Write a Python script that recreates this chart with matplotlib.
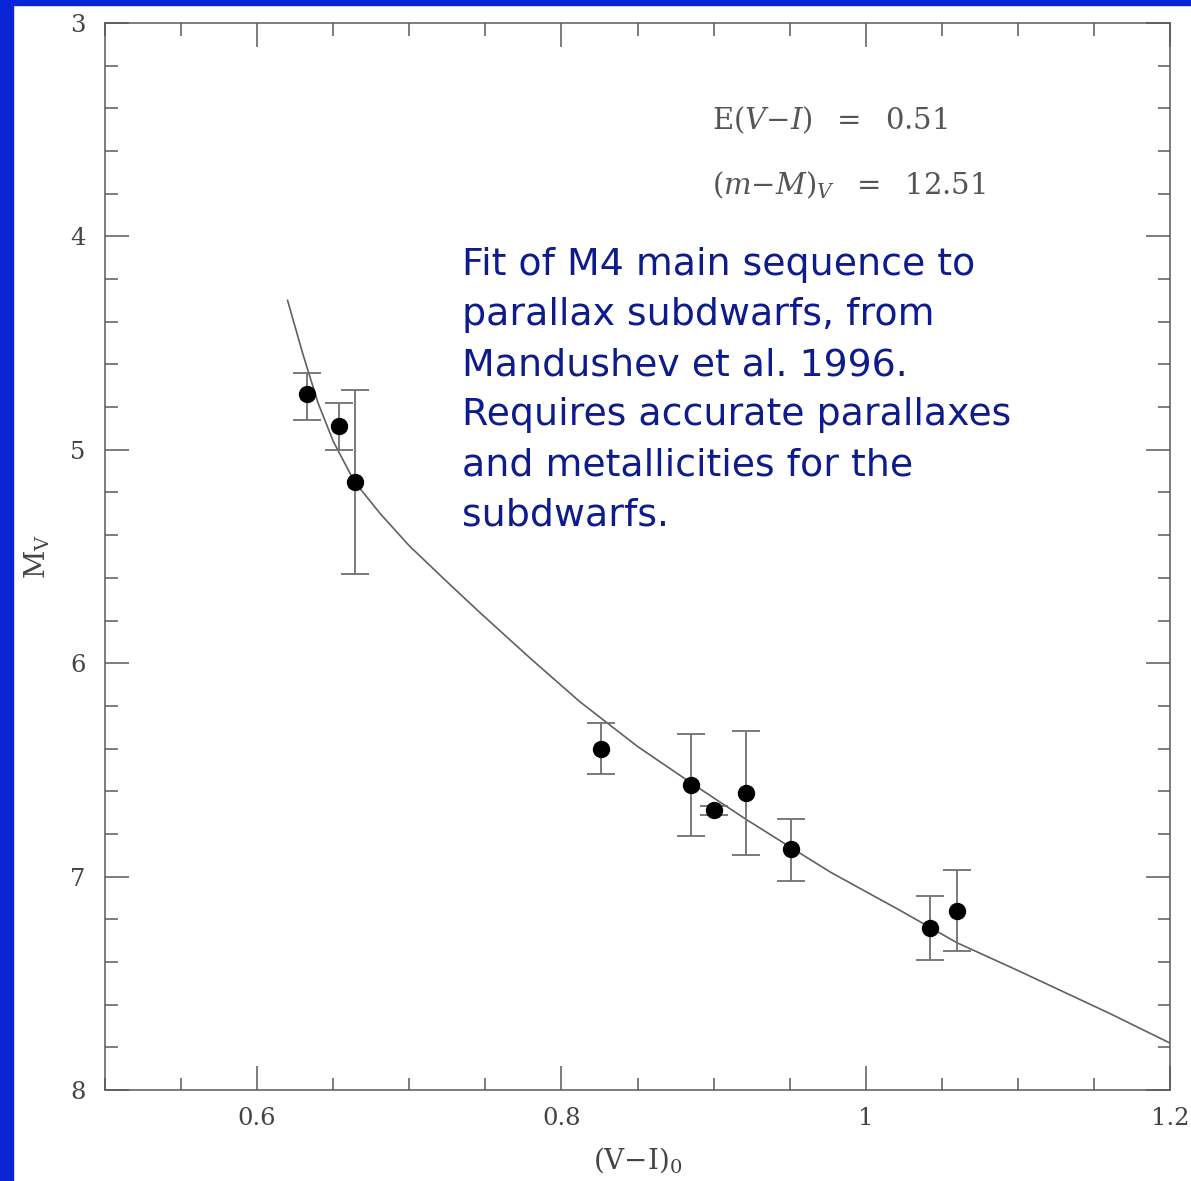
import numpy as np
import matplotlib.pyplot as plt
from matplotlib.patches import Rectangle
from matplotlib.ticker import MultipleLocator

plt.rcParams['mathtext.fontset'] = 'dejavuserif'

# subdwarf points: colour, M_V and the error bar ends
vi = [0.633, 0.654, 0.664, 0.826, 0.885, 0.900, 0.921, 0.951, 1.042, 1.060]
mv = [4.74, 4.89, 5.15, 6.40, 6.57, 6.69, 6.61, 6.87, 7.24, 7.16]
mv_top = [4.64, 4.78, 4.72, 6.28, 6.33, 6.67, 6.32, 6.73, 7.09, 6.97]
mv_bot = [4.86, 5.00, 5.58, 6.52, 6.81, 6.71, 6.90, 7.02, 7.39, 7.35]

# M4 main sequence fiducial, sampled from the plotted line
ms_vi = [0.620, 0.630, 0.640, 0.650, 0.664, 0.681, 0.700, 0.725, 0.746,
         0.780, 0.812, 0.850, 0.885, 0.921, 0.950, 0.977, 1.000, 1.023,
         1.060, 1.100, 1.121, 1.160, 1.200]
ms_mv = [4.30, 4.55, 4.78, 4.96, 5.15, 5.30, 5.45, 5.62, 5.76,
         5.98, 6.18, 6.39, 6.56, 6.73, 6.86, 6.98, 7.07, 7.16,
         7.31, 7.44, 7.51, 7.64, 7.78]

note = ("Fit of M4 main sequence to\nparallax subdwarfs, from\n"
        "Mandushev et al. 1996.\nRequires accurate parallaxes\n"
        "and metallicities for the\nsubdwarfs.")

grey = '#5a5a5a'

fig = plt.figure(figsize=(11.91, 11.81), dpi=100, facecolor='white')
# blue slide border on the left and top
fig.patches.append(Rectangle((0, 0), 13 / 1191, 1, transform=fig.transFigure,
                             color='#0a24d8', zorder=0))
fig.patches.append(Rectangle((0, 1 - 5 / 1181), 1, 5 / 1181, transform=fig.transFigure,
                             color='#0a24d8', zorder=0))

ax = fig.add_axes([105 / 1191, 91 / 1181, 1065 / 1191, 1067 / 1181])

yerr = [np.array(mv) - np.array(mv_top), np.array(mv_bot) - np.array(mv)]
ax.errorbar(vi, mv, yerr=yerr, fmt='none', ecolor='#707070', elinewidth=1.3,
            capsize=10, capthick=1.3, zorder=2)
ax.plot(vi, mv, 'o', color='black', markersize=11.5, zorder=3)
ax.plot(ms_vi, ms_mv, color='#606060', lw=1.2, zorder=1)

ax.set_xlim(0.5, 1.2)
ax.set_ylim(8, 3)
ax.xaxis.set_major_locator(MultipleLocator(0.2))
ax.xaxis.set_minor_locator(MultipleLocator(0.05))
ax.yaxis.set_major_locator(MultipleLocator(1))
ax.yaxis.set_minor_locator(MultipleLocator(0.2))
ax.set_xticks([0.6, 0.8, 1.0, 1.2])
ax.set_xticklabels(['0.6', '0.8', '1', '1.2'])
ax.set_yticks([3, 4, 5, 6, 7, 8])
ax.set_yticklabels(['3', '4', '5', '6', '7', '8'])

ax.tick_params(which='both', direction='in', top=True, right=True, color=grey,
               width=1.1, labelcolor='#444444', labelsize=17.5)
ax.tick_params(which='major', length=17)
ax.tick_params(which='minor', length=9)
ax.tick_params(axis='x', pad=12)
ax.tick_params(axis='y', pad=14)
for lab in ax.get_xticklabels() + ax.get_yticklabels():
    lab.set_family('DejaVu Serif')
for s in ax.spines.values():
    s.set_color(grey)
    s.set_linewidth(1.1)

ax.set_xlabel(r'$\mathrm{(V{-}I)_0}$', fontsize=20, color='#444444', labelpad=11)
ax.set_ylabel(r'$\mathrm{M_V}$', fontsize=20, color='#444444', labelpad=13)

ax.text(0.570, 0.909, r'$\mathrm{E}(V{-}I)\ \ =\ \ 0.51$', transform=ax.transAxes,
        fontsize=21, color='#555555', va='center', ha='left')
ax.text(0.570, 0.848, r'$(m{-}M)_V\ \ =\ \ 12.51$', transform=ax.transAxes,
        fontsize=21, color='#555555', va='center', ha='left')

ax.text(0.335, 0.790, note, transform=ax.transAxes, fontsize=27.3,
        color='#0d1b8c', va='top', ha='left', linespacing=1.50,
        family='DejaVu Sans')

fig.savefig('out.png', dpi=100, facecolor='white')
